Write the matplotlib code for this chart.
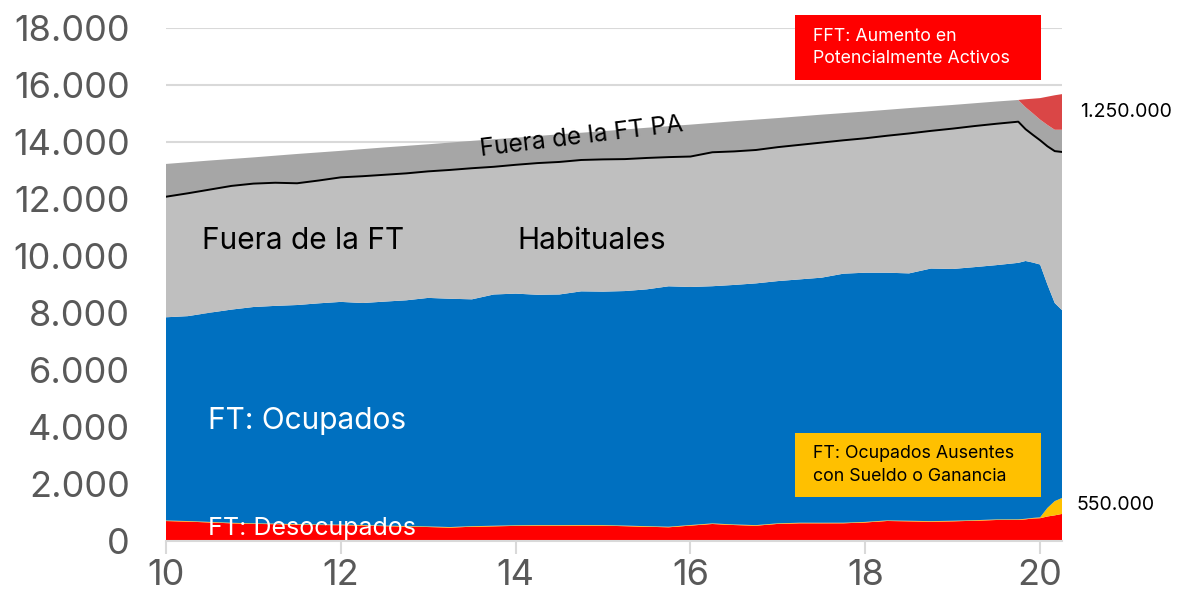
"""
Stacked area chart: working-age population split into labour-force groups,
2010 to mid-2020 (thousands of people).
"""

import numpy as np
import matplotlib.pyplot as plt
from matplotlib.patches import Rectangle
from matplotlib.ticker import FuncFormatter, MultipleLocator

plt.rcParams["font.family"] = ["Inter", "DejaVu Sans"]

# x axis: two-digit years, quarterly until late 2019, then monthly
years = [10.0, 10.25, 10.5, 10.75, 11.0, 11.25, 11.5, 11.75,
         12.0, 12.25, 12.5, 12.75, 13.0, 13.25, 13.5, 13.75,
         14.0, 14.25, 14.5, 14.75, 15.0, 15.25, 15.5, 15.75,
         16.0, 16.25, 16.5, 16.75, 17.0, 17.25, 17.5, 17.75,
         18.0, 18.25, 18.5, 18.75, 19.0, 19.25, 19.5, 19.75,
         19.833, 19.917, 20.0, 20.083, 20.167, 20.25]

# FT: Desocupados
desocupados = [700, 680, 650, 620, 600, 590, 570, 560,
               555, 540, 520, 505, 490, 470, 500, 515,
               530, 537, 537, 540, 537, 520, 500, 481,
               540, 597, 560, 537, 600, 621, 620, 621,
               650, 702, 690, 677, 690, 710, 737, 740,
               760, 790, 800, 860, 900, 950]

# FT: Ocupados Ausentes con Sueldo o Ganancia (increase)
ausentes = [20] * 40 + [20, 20, 30, 300, 500, 560]

# top edge of the blue band (desocupados + ausentes + ocupados)
top_ocupados = [7850, 7890, 8010, 8120, 8210, 8250, 8280, 8340,
                8390, 8350, 8400, 8446, 8530, 8500, 8480, 8650,
                8680, 8640, 8650, 8760, 8750, 8770, 8830, 8937,
                8913, 8940, 8985, 9040, 9120, 9180, 9240, 9380,
                9414, 9414, 9390, 9560, 9545, 9610, 9680, 9760,
                9825, 9770, 9700, 9000, 8350, 8100]

# top edge of "Fuera de la FT Habituales" (black line)
top_habituales = [12080, 12200, 12330, 12460, 12540, 12570, 12552, 12650,
                  12760, 12800, 12850, 12900, 12970, 13020, 13080, 13130,
                  13200, 13260, 13300, 13369, 13390, 13400, 13440, 13470,
                  13490, 13640, 13670, 13720, 13820, 13900, 13980, 14060,
                  14131, 14220, 14300, 14390, 14470, 14560, 14640, 14713,
                  14450, 14250, 14060, 13850, 13680, 13650]

# FFT: Aumento en Potencialmente Activos
fft_aumento = [0] * 40 + [280, 515, 755, 990, 1210, 1250]

# top edge of the whole stack
top_total = [13230, 13290, 13350, 13405, 13460, 13520, 13580, 13635,
             13690, 13750, 13810, 13865, 13920, 13980, 14040, 14095,
             14150, 14210, 14270, 14325, 14380, 14440, 14500, 14555,
             14610, 14670, 14730, 14785, 14840, 14900, 14960, 15015,
             15070, 15130, 15190, 15245, 15300, 15360, 15420, 15475,
             15500, 15520, 15540, 15590, 15640, 15680]

x = np.array(years)
deso = np.array(desocupados)
aus = np.array(ausentes)
ocup = np.array(top_ocupados) - deso - aus
habit = np.array(top_habituales) - np.array(top_ocupados)
fft = np.array(fft_aumento)
pa = np.array(top_total) - fft - np.array(top_habituales)

colors = ["#FF0000", "#FFC000", "#0070C0", "#BFBFBF", "#A6A6A6", "#DA4646"]

W, H = 1183, 603


def fpos(px, py):
    return px / W, 1 - py / H


fig = plt.figure(figsize=(W / 100, H / 100), dpi=100)
ax = fig.add_axes([166 / W, 1 - 541 / H, (1062 - 166) / W, (541 - 28) / H])

ax.stackplot(x, deso, aus, ocup, habit, pa, fft, colors=colors, linewidth=0)
ax.plot(x, top_habituales, color="black", lw=1.4)

ax.set_xlim(10, 20.25)
ax.set_ylim(0, 18000)
ax.xaxis.set_major_locator(MultipleLocator(2))
ax.yaxis.set_major_locator(MultipleLocator(2000))
ax.yaxis.set_major_formatter(FuncFormatter(lambda v, _: f"{int(v):,}".replace(",", ".")))

ax.set_axisbelow(True)
ax.yaxis.grid(True, color="#D9D9D9", lw=1.5)
for side in ("left", "top", "right"):
    ax.spines[side].set_visible(False)
ax.spines["bottom"].set_color("#D9D9D9")
ax.spines["bottom"].set_linewidth(1.5)
ax.tick_params(axis="x", length=9, width=1.5, color="#D9D9D9",
               labelsize=26, labelcolor="#595959", pad=4)
ax.tick_params(axis="y", length=0, labelsize=26, labelcolor="#595959", pad=26)

# labels inside the areas
fig.text(*fpos(202, 241), "Fuera de la FT", fontsize=21.5, va="center", ha="left")
fig.text(*fpos(517, 241), "Habituales", fontsize=21.5, va="center", ha="left")
fig.text(*fpos(582, 137), "Fuera de la FT PA", fontsize=17.5, va="center",
         ha="center", rotation=7)
fig.text(*fpos(208, 421), "FT: Ocupados", fontsize=21.5, color="white",
         va="center", ha="left")
fig.text(*fpos(208, 529), "FT: Desocupados", fontsize=18, color="white",
         va="center", ha="left")

# end-of-series values
fig.text(*fpos(1080, 112), "1.250.000", fontsize=14, va="center", ha="left")
fig.text(*fpos(1077, 505), "550.000", fontsize=14, va="center", ha="left")

# callout boxes
for (x0, y0, x1, y1), face, txt, tcol in [
    ((795, 15, 1041, 80), "#FF0000", "FFT: Aumento en\nPotencialmente Activos", "white"),
    ((795, 433, 1041, 497), "#FFC000", "FT: Ocupados Ausentes\ncon Sueldo o Ganancia", "black"),
]:
    bx, by = fpos(x0, y1)
    fig.add_artist(Rectangle((bx, by), (x1 - x0) / W, (y1 - y0) / H,
                             transform=fig.transFigure, facecolor=face,
                             edgecolor="none"))
    fig.text(*fpos(813, (y0 + y1) / 2), txt, fontsize=12.8, color=tcol,
             va="center", ha="left", linespacing=1.4)

fig.savefig("out.png", dpi=100)
